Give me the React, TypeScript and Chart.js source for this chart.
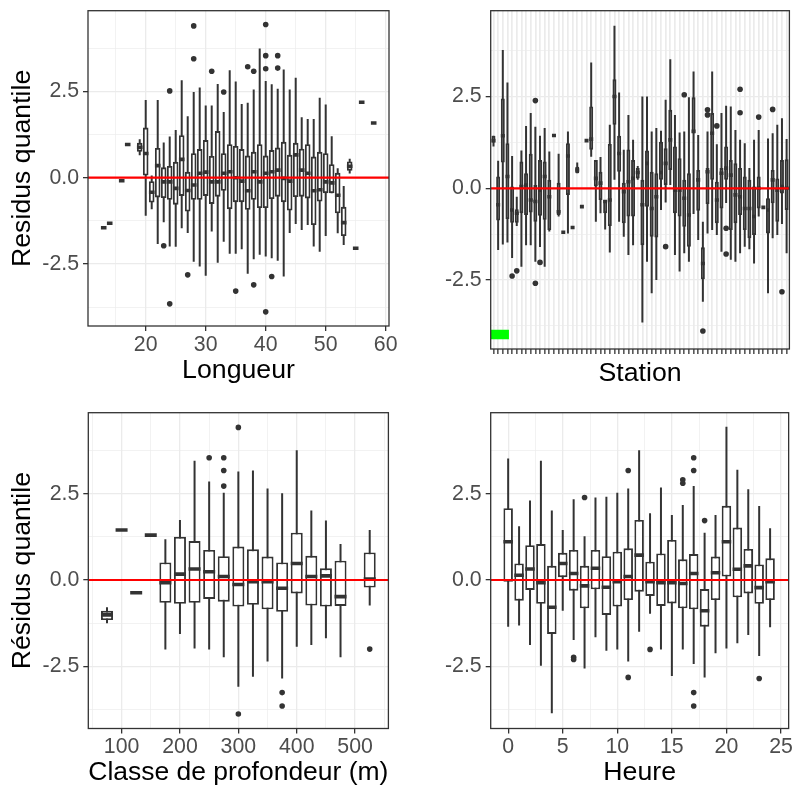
import React, { useEffect, useRef } from "react";
import { Chart, registerables } from "chart.js";

Chart.register(...registerables);

const FONT = '"Liberation Sans", Arial, Helvetica, sans-serif';
Chart.defaults.font.family = FONT;
const INK = "#333333";
const GRID = "#EBEBEB";
const TICK_TEXT = "#4D4D4D";

// ---------- shared y axis ----------
const yMajor = [-2.5, 0, 2.5];
const yMinor = [-3.75, -1.25, 1.25, 3.75];

// ---------- Panel 1 : Longueur ----------
const lenX = [13, 14, 16, 17, 19, 20, 21, 22, 23, 24, 25, 26, 27, 28, 29, 30, 31, 32, 33, 34, 35, 36, 37, 38, 39, 40, 41, 42, 43, 44, 45, 46, 47, 48, 49, 50, 51, 52, 53, 54, 55, 56, 58];
const lenLo = [-1.45, -1.32, -0.09, 0.96,
  0.65, -1.1, -0.91, -1.92, -1.29, -1.99, -2.0, -1.46, -1.6, -2.43,
  -2.57, -2.84, -1.56, -2.46, -1.85, -2.2, -2.2, -2.07, -2.78, -2.36,
  -2.23, -2.28, -2.33, -2.4, -2.86, -1.6, -1.34, -1.51, -1.37, -1.99,
  -2.14, -1.69, -0.45, -1.61, -1.95, 0.12,
  -2.04, 2.18, 1.58];
const lenQ1 = [-1.45, -1.32, -0.09, 0.96,
  0.75, 0.06, -0.72, -0.57, -0.59, -0.64, -0.78, -0.53, -0.98, -0.64,
  -0.64, -0.53, -0.76, -0.55, -0.38, -0.91, -0.71, -0.71, -0.93, -0.64,
  -0.88, -0.88, -0.62, -0.55, -0.71, -0.95, -0.56, -0.55, -0.6, -1.37,
  -0.69, -0.45, -0.45, -1.03, -1.69, 0.2,
  -2.04, 2.18, 1.58];
const lenMed = [-1.45, -1.32, -0.09, 0.96,
  0.88, 0.7, -0.42, 0.35, -0.12, -0.12, -0.31, 0.53, -0.37, -0.21,
  0.13, 0.16, -0.12, -0.12, 0.13, 0.17, 0.0, -0.1, -0.38, 0.17,
  -0.12, 0.13, 0.17, 0.22, -0.02, -0.1, 0.66, 0.22, 0.13, -0.38,
  -0.35, -0.12, -0.15, -0.51, -1.3, 0.33,
  -2.04, 2.18, 1.58];
const lenQ3 = [-1.45, -1.32, -0.09, 0.96,
  1.01, 1.45, -0.1, 0.86, 0.3, 0.34, 0.46, 1.23, 0.17, 0.71,
  0.83, 1.09, 0.63, 1.35, 0.71, 0.97, 0.92, 0.83, 0.64, 0.75,
  0.97, 0.64, 0.8, 0.87, 1.04, 0.66, 1.01, 0.84, 0.97, 0.61,
  0.75, 0.71, 0.39, 0.14, -0.84, 0.47,
  -2.04, 2.18, 1.58];
const lenHi = [-1.45, -1.32, -0.09, 0.96,
  1.11, 2.25, 0.06, 2.25, 1.02, 1.19, 1.38, 2.82, 1.78, 2.48,
  2.61, 2.09, 2.09, 2.71, 1.9, 3.11, 2.78, 2.13, 2.17, 2.55,
  3.74, 2.8, 2.7, 2.57, 3.13, 2.55, 2.89, 1.75, 1.7, 1.7,
  2.31, 2.12, 1.2, 0.27, -0.24, 0.55,
  -2.04, 2.18, 1.58];
const lenOutX = [23, 24, 24, 27, 28, 28, 31, 33, 35, 37, 38, 38, 40, 40, 40, 40, 41, 42, 42];
const lenOutY = [-1.97, 2.51, -3.65, -2.81, 4.39, 3.44, 3.08, 2.48, -3.28, 3.21, 3.08, -3.1, 4.43, 3.53, 3.15, -3.88, -2.86, 3.53, 3.17];
const lenTicks = [20, 30, 40, 50, 60];
const lenMinor = [15, 25, 35, 45, 55];

// ---------- Panel 2 : Station ----------
const stationX = [1, 2, 3, 4, 5, 6, 7, 8, 9, 10, 11, 12, 13, 14, 15, 16, 17, 18, 19, 20, 21, 22, 23, 24, 25, 26, 27, 28, 29, 30, 31, 32, 33, 34, 35, 36, 37, 38, 39, 40, 41, 42, 43, 44, 45, 46, 47, 48, 49, 50, 51, 52, 53, 54, 55, 56, 57, 58, 59, 60, 61, 62, 63, 64];
const stLo = [1.14, -1.68, -1.53, -1.48, -1.9, -1.03, -2.14, -1.55, -1.55, -2.0,
  -1.6, -2.14, -1.18, 1.44, -0.77, -1.2, -1.23, -1.07, 0.41, -0.5,
  1.3, 0.86, -0.91, -0.68, -1.12, -1.75, 0.23, -0.91, -1.32, -1.82,
  -1.55, 0.23, -3.66, -2.0, -2.86, -2.5, -0.59, -0.39, 0.09, -1.82,
  -2.27, -1.77, -2.0, -0.7, -1.41, -3.09, -1.23, -1.14, -1.27, -1.73,
  -0.4, -1.95, -2.0, -1.77, -1.59, -1.66, -2.05, -0.77, -0.52, -2.86,
  -1.36, -1.27, -0.97, -1.77];
const stQ1 = [1.25, -0.88, 0.7, -0.84, -0.94, -0.94, -0.68, -0.73, -0.66, -0.91,
  -0.75, -0.86, -1.14, 1.44, -0.73, -1.2, -0.18, -1.07, 0.41, -0.5,
  1.3, 1.05, 0.05, -0.32, -0.68, -1.03, 1.73, 0.45, -0.95, -0.77,
  -0.77, 0.27, -1.55, -0.5, -1.32, -1.34, 0.23, 0.09, 0.5, -0.68,
  -0.77, -1.05, -1.59, 1.5, -0.61, -2.48, -0.43, 0.23, -0.95, -0.55,
  0.23, -1.14, -0.95, -0.73, -1.14, -1.36, -1.27, -0.55, -0.52, -1.23,
  -0.41, -0.91, -0.14, -0.59];
const stMed = [1.3, -0.45, 1.43, 0.32, -0.59, -0.68, 0.05, 0.09, -0.32, -0.36,
  -0.05, 0.32, -0.23, 1.44, -0.64, -1.2, 0.88, -1.07, 0.5, -0.5,
  1.3, 1.34, 0.27, 0.14, -0.36, -0.32, 2.5, 0.95, -0.09, 0.18,
  0.27, 0.43, -0.45, 0.68, -0.55, -0.23, 0.43, 0.68, 1.32, -0.05,
  -0.05, -0.27, -0.73, 1.55, 0.23, -2.05, 0.45, 1.5, -0.32, 0.41,
  0.55, 0.36, -0.18, -0.23, -0.55, -0.55, -0.77, 0.0, -0.52, -0.59,
  0.23, -0.05, 0.05, 0.0];
const stQ3 = [1.43, 0.32, 2.45, 1.23, 0.05, -0.57, 0.73, 0.41, 0.94, 0.09,
  0.77, 0.73, 0.23, 1.44, 0.15, -1.2, 1.23, -1.07, 0.59, -0.5,
  1.3, 2.23, 0.77, 0.45, -0.32, 1.21, 2.97, 1.43, 0.15, 1.06,
  0.77, 0.55, 0.23, 1.03, 0.45, 0.41, 1.27, 1.09, 2.14, 1.14,
  0.82, 0.23, 0.41, 2.48, 0.5, -1.61, 0.55, 2.05, 0.18, 0.55,
  1.14, 0.77, 0.68, 0.55, 0.32, 0.23, 0.05, 0.32, -0.52, -0.27,
  0.5, 0.27, 0.77, 0.79];
const stHi = [1.43, 0.75, 3.77, 2.88, 0.88, -0.23, 1.03, 1.7, 2.05, 1.68,
  1.43, 1.64, 1.0, 1.44, 0.94, -1.2, 1.55, -1.07, 0.7, -0.5,
  1.3, 3.43, 0.77, 0.85, -0.32, 1.73, 4.43, 2.61, 1.05, 2.0,
  1.32, 0.61, 2.5, 2.5, 1.55, 1.64, 1.57, 2.41, 3.52, 2.0,
  1.52, 1.55, 2.48, 3.18, 1.45, -0.91, 1.55, 3.18, 1.2, 2.05,
  2.25, 2.23, 1.59, 1.32, 1.23, 0.55, 1.32, 1.59, -0.52, 1.36,
  1.5, 1.73, 1.91, 1.34];
const stOutX = [5, 6, 10, 10, 11, 38, 42, 46, 47, 47, 49, 51, 51, 54, 54, 58, 61, 63];
const stOutY = [-2.39, -2.25, 2.39, -2.59, -2.02, -1.59, 2.55, -3.89, 2.14, 2.0, 1.7, -1.09, -1.79, 2.7, 2.06, 1.94, 2.15, -2.82];
const stFlagX = [0.4, 4.32];
const stFlagY = [-3.86, -4.11];

// ---------- Panel 3 : Classe de profondeur ----------
const depX = [75, 100, 125, 150, 175, 200, 225, 250, 275, 300, 325, 350, 375, 400, 425, 450, 475, 525];
const depLo = [-1.25, 1.45, -0.37, 1.3, -2.01, -1.56, -1.98, -2.01, -2.24, -3.09, -2.8, -2.36, -2.85, -1.93, -1.88, -1.69, -2.24, -0.74];
const depQ1 = [-1.16, 1.45, -0.37, 1.3, -0.66, -0.69, -0.66, -0.55, -0.63, -0.77, -0.72, -0.85, -0.92, -0.39, -0.74, -0.77, -0.75, -0.22];
const depMed = [-1.01, 1.45, -0.37, 1.3, -0.08, 0.17, 0.32, 0.24, 0.1, -0.13, -0.05, -0.05, -0.24, 0.48, 0.1, 0.12, -0.48, 0.03];
const depQ3 = [-0.89, 1.45, -0.37, 1.3, 0.51, 1.25, 1.13, 0.87, 0.69, 0.97, 0.89, 0.68, 0.51, 1.37, 0.7, 0.34, 0.56, 0.8];
const depHi = [-0.79, 1.45, -0.37, 1.3, 1.18, 1.74, 3.45, 2.85, 2.53, 3.14, 3.17, 2.65, 2.51, 3.76, 2.01, 1.72, 1.04, 1.45];
const depOutX = [250, 275, 275, 275, 300, 300, 375, 375, 525];
const depOutY = [3.54, 3.54, 3.17, 2.72, 4.42, -3.88, -3.26, -3.65, -2.0];
const depTicks = [100, 200, 300, 400, 500];
const depMinor = [50, 150, 250, 350, 450, 550];

// ---------- Panel 4 : Heure ----------
const hourX = [0, 1, 2, 3, 4, 5, 6, 7, 8, 9, 10, 11, 12, 13, 14, 15, 16, 17, 18, 19, 20, 21, 22, 23, 24];
const hourLo = [-1.35, -1.32, -1.88, -2.48, -3.86, -0.89, -1.74, -2.56, -1.66, -2.05, -2.01, -2.36, -1.5, -0.98, -2.01, -2.78, -2.01, -2.43, -2.82, -2.12, -1.98, -1.83, -1.59, -2.2, -1.37];
const hourQ1 = [-0.05, -0.6, -0.29, -0.69, -1.56, 0.08, -0.31, -0.82, -0.27, -1.01, -0.77, -0.58, -0.34, -0.46, -0.75, -0.68, -0.82, -0.85, -1.35, -0.58, 0.1, -0.5, -0.39, -0.69, -0.58];
const hourMed = [1.11, 0.14, 0.32, -0.08, -0.79, 0.48, 0.19, -0.17, 0.34, -0.21, -0.05, 0.1, 0.72, -0.05, -0.08, -0.08, -0.1, 0.19, -0.89, 0.21, 1.11, 0.31, 0.41, -0.22, -0.05];
const hourQ3 = [2.08, 0.48, 1.01, 1.04, 0.41, 0.79, 0.87, 0.41, 0.87, 0.69, 0.82, 0.92, 1.74, 0.53, 0.77, 1.16, 0.6, 0.75, -0.26, 0.68, 2.15, 1.52, 0.9, 0.45, 0.63];
const hourHi = [3.52, 1.56, 2.3, 3.45, 2.01, 1.45, 2.34, 1.27, 2.39, 2.41, 2.53, 2.65, 3.76, 1.93, 2.68, 1.88, 2.17, 2.72, 1.37, 1.88, 4.44, 3.19, 2.63, 2.14, 1.5];
const hourOutX = [6, 6, 7, 11, 11, 13, 16, 16, 17, 17, 17, 17, 18, 23];
const hourOutY = [-2.24, -2.3, 2.39, 3.17, -2.82, -2.01, 2.9, 2.8, 3.54, 3.17, -3.26, -3.65, 1.72, -2.85];
const hourTicks = [0, 5, 10, 15, 20, 25];
const hourMinor = [2.5, 7.5, 12.5, 17.5, 22.5];

type Panel = {
  left: number; top: number; w: number; h: number;
  yWidth: number; xHeight: number; padTop: number; padRight: number;
  xMin: number; xMax: number; yMin: number; yMax: number;
  x: number[]; lo: number[]; q1: number[]; med: number[]; q3: number[]; hi: number[];
  outX: number[]; outY: number[];
  xMajor: number[]; xMinor: number[]; xLabels: boolean;
  boxW: number; gridW: number;
  xTitle: string; yTitle: string; xTitlePad: number;
  extra?: any[];
};

const panels: Panel[] = [
  {
    left: 0, top: 0, w: 398, h: 398, yWidth: 88, xHeight: 72, padTop: 10.7, padRight: 9,
    xMin: 10.38, xMax: 60.55, yMin: -4.29, yMax: 4.83,
    x: lenX, lo: lenLo, q1: lenQ1, med: lenMed, q3: lenQ3, hi: lenHi, outX: lenOutX, outY: lenOutY,
    xMajor: lenTicks, xMinor: lenMinor, xLabels: true, boxW: 5.6, gridW: 1.3,
    xTitle: "Longueur", yTitle: "Residus quantile", xTitlePad: 11,
  },
  {
    left: 398, top: 0, w: 399, h: 398, yWidth: 92.7, xHeight: 49, padTop: 10.7, padRight: 6.7,
    xMin: 0.4, xMax: 64.6, yMin: -4.38, yMax: 4.84,
    x: stationX, lo: stLo, q1: stQ1, med: stMed, q3: stQ3, hi: stHi, outX: stOutX, outY: stOutY,
    xMajor: stationX, xMinor: [], xLabels: false, boxW: 4.0, gridW: 1.7,
    xTitle: "Station", yTitle: "", xTitlePad: 8,
    extra: [{
      type: "scatter",
      data: [
        { x: stFlagX[0], y: (stFlagY[0] + stFlagY[1]) / 2 },
        { x: stFlagX[1], y: (stFlagY[0] + stFlagY[1]) / 2 },
      ],
      showLine: true, borderColor: "#00FF00", borderWidth: 9.3, pointRadius: 0,
      borderCapStyle: "butt", order: 2,
    }],
  },
  {
    left: 0, top: 398, w: 398, h: 394, yWidth: 88.3, xHeight: 63.5, padTop: 14.7, padRight: 9,
    xMin: 43, xMax: 557, yMin: -4.3, yMax: 4.845,
    x: depX, lo: depLo, q1: depQ1, med: depMed, q3: depQ3, hi: depHi, outX: depOutX, outY: depOutY,
    xMajor: depTicks, xMinor: depMinor, xLabels: true, boxW: 12, gridW: 1.3,
    xTitle: "Classe de profondeur (m)", yTitle: "Résidus quantile", xTitlePad: 3,
  },
  {
    left: 398, top: 398, w: 399, h: 394, yWidth: 92.7, xHeight: 63.5, padTop: 14.7, padRight: 6.3,
    xMin: -1.6, xMax: 25.7, yMin: -4.3, yMax: 4.845,
    x: hourX, lo: hourLo, q1: hourQ1, med: hourMed, q3: hourQ3, hi: hourHi, outX: hourOutX, outY: hourOutY,
    xMajor: hourTicks, xMinor: hourMinor, xLabels: true, boxW: 9.5, gridW: 1.3,
    xTitle: "Heure", yTitle: "", xTitlePad: 3,
  },
];

const near = (a: number, list: number[]) => list.some((v) => Math.abs(v - a) < 1e-6);

const framePlugin = {
  id: "frame",
  afterDraw(chart: any) {
    const { ctx, chartArea: a } = chart;
    ctx.save();
    ctx.strokeStyle = INK;
    ctx.lineWidth = 1.3;
    ctx.strokeRect(a.left, a.top, a.right - a.left, a.bottom - a.top);
    ctx.restore();
  },
};

function buildConfig(p: Panel): any {
  const whisk: any[] = [];
  const boxes: any[] = [];
  const meds: any[] = [];
  for (let i = 0; i < p.x.length; i++) {
    if (p.hi[i] > p.lo[i]) {
      whisk.push({ x: p.x[i], y: p.lo[i] }, { x: p.x[i], y: p.hi[i] }, { x: p.x[i], y: null });
    }
    if (p.q3[i] > p.q1[i]) boxes.push({ x: p.x[i], y: [p.q1[i], p.q3[i]] });
    meds.push({ x: p.x[i], y: p.med[i] });
  }
  const outs = p.outX.map((x, i) => ({ x, y: p.outY[i] }));

  const datasets: any[] = [
    {
      type: "scatter", data: whisk, showLine: true, borderColor: INK, borderWidth: 2,
      pointRadius: 0, spanGaps: false, borderCapStyle: "butt", order: 6,
    },
    {
      type: "bar", data: boxes, backgroundColor: "#FFFFFF", borderColor: INK, borderWidth: 1.9,
      borderSkipped: false, barThickness: p.boxW, inflateAmount: 0, order: 5,
    },
    {
      type: "scatter", data: meds, pointStyle: "line", pointRadius: p.boxW / 2,
      pointBorderWidth: 3.6, pointBorderColor: INK, pointBackgroundColor: INK, order: 4,
    },
    {
      type: "scatter", data: outs, pointRadius: 2.8, pointBackgroundColor: INK,
      pointBorderWidth: 0, order: 3,
    },
    ...(p.extra || []),
    {
      type: "scatter", data: [{ x: p.xMin, y: 0 }, { x: p.xMax, y: 0 }], showLine: true,
      borderColor: "#FF0000", borderWidth: 2.2, pointRadius: 0, order: 1,
    },
  ];

  const xAll = [...p.xMajor, ...p.xMinor].sort((a, b) => a - b);
  const yAll = [...yMajor, ...yMinor].sort((a, b) => a - b);
  const tickFont = { size: 21.3, family: FONT };
  const titleFont = { size: 26.7, family: FONT };

  return {
    type: "scatter",
    data: { datasets },
    plugins: [framePlugin],
    options: {
      responsive: false,
      animation: false,
      events: [],
      layout: { padding: { top: p.padTop, right: p.padRight, left: 0, bottom: 0 } },
      plugins: { legend: { display: false }, tooltip: { enabled: false } },
      scales: {
        x: {
          type: "linear", min: p.xMin, max: p.xMax, offset: false, bounds: "data",
          border: { display: false },
          grid: {
            offset: false, color: GRID, drawTicks: true, tickLength: 5, tickWidth: 1.3,
            lineWidth: (c: any) => (c.tick && near(c.tick.value, p.xMajor) ? p.gridW : 0.65),
            tickColor: (c: any) => (c.tick && near(c.tick.value, p.xMajor) ? INK : "rgba(0,0,0,0)"),
          },
          ticks: {
            autoSkip: false, maxRotation: 0, minRotation: 0, padding: 1, color: TICK_TEXT, font: tickFont,
            callback: (v: number) => (p.xLabels && near(v, p.xMajor) ? String(v) : ""),
          },
          afterBuildTicks: (s: any) => { s.ticks = xAll.map((v) => ({ value: v })); },
          afterFit: (s: any) => { s.height = p.xHeight; s.paddingLeft = 0; s.paddingRight = 0; },
          title: {
            display: true, text: p.xTitle, color: "#000000", font: titleFont,
            padding: { top: 0, bottom: p.xTitlePad },
          },
        },
        y: {
          type: "linear", min: p.yMin, max: p.yMax, bounds: "data", stacked: false,
          border: { display: false },
          grid: {
            color: GRID, drawTicks: true, tickLength: 5, tickWidth: 1.3,
            lineWidth: (c: any) => (c.tick && near(c.tick.value, yMajor) ? 1.3 : 0.65),
            tickColor: (c: any) => (c.tick && near(c.tick.value, yMajor) ? INK : "rgba(0,0,0,0)"),
          },
          ticks: {
            autoSkip: false, padding: 4, color: TICK_TEXT, font: tickFont,
            callback: (v: number) => (near(v, yMajor) ? v.toFixed(1) : ""),
          },
          afterBuildTicks: (s: any) => { s.ticks = yAll.map((v) => ({ value: v })); },
          afterFit: (s: any) => { s.width = p.yWidth; s.paddingTop = 0; s.paddingBottom = 0; },
          title: {
            display: !!p.yTitle, text: p.yTitle, color: "#000000", font: titleFont,
            padding: { top: 7, bottom: 0 },
          },
        },
      },
    },
  };
}

function BoxPanel({ p }: { p: Panel }) {
  const ref = useRef<HTMLCanvasElement>(null);
  useEffect(() => {
    if (!ref.current) return;
    const chart = new Chart(ref.current, buildConfig(p));
    return () => chart.destroy();
  }, [p]);
  return (
    <canvas
      ref={ref}
      width={p.w}
      height={p.h}
      style={{ position: "absolute", left: p.left, top: p.top, width: p.w, height: p.h, display: "block" }}
    />
  );
}

export default function App() {
  return (
    <div style={{ position: "absolute", left: 0, top: 0, width: 797, height: 792, background: "#FFFFFF", overflow: "hidden" }}>
      {panels.map((p, i) => (
        <BoxPanel key={i} p={p} />
      ))}
    </div>
  );
}
